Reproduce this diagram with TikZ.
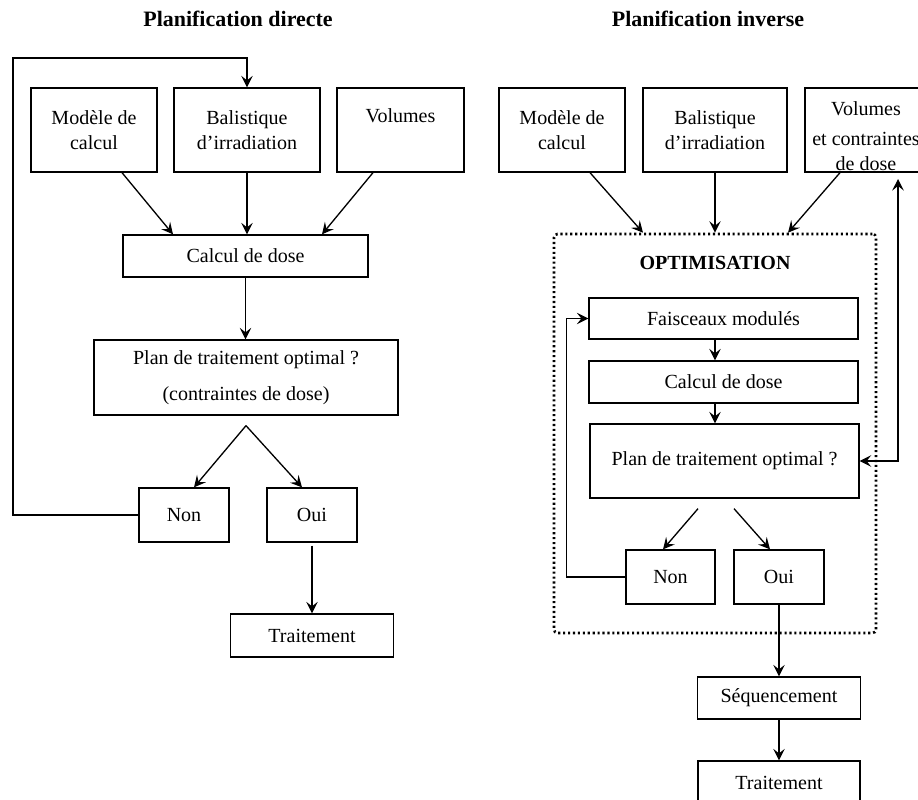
\documentclass[tikz,border=0pt]{standalone}
\usepackage{fontspec}
\setmainfont{Liberation Serif}
\usetikzlibrary{positioning,arrows.meta}

\begin{document}
\begin{tikzpicture}
    [font=\fontsize{11.4}{14.2}\selectfont,
    >={Stealth[length=2.3mm, width=2.3mm, inset=0.9mm]},
    % box/.style={top color=white, bottom color=black!10, draw},
    box/.style={draw=black, line width=0.75pt, align=center, inner sep=0pt},
    titre/.style={font=\fontsize{12.5}{15}\selectfont\bfseries},
    arr/.style={->, draw=black, line width=0.75pt},
    optbox/.style={draw=black, line width=1.5pt, dash pattern=on 1.2pt off 1.6pt,
        rounded corners=2pt, minimum width=6.44cm, minimum height=7.98cm}]
    \useasboundingbox (0,0) rectangle (18.36,-16);

    % Planification directe
    \node [titre] (titre1) at (4.76,-0.38) {Planification directe};
    \node [box, minimum width=2.52cm, minimum height=1.68cm] (mod1) at (1.88,-2.60) {Modèle de\\calcul};
    \node [box, minimum width=2.92cm, minimum height=1.68cm] (bal1) at (4.94,-2.60) {Balistique\\d’irradiation};
    \node [box, minimum width=2.54cm, minimum height=1.68cm] (vol1) at (8.01,-2.60) {Volumes\\[2pt] \mbox{}};
    \node [box, minimum width=4.90cm, minimum height=0.84cm] (calc1) at (4.91,-5.12) {Calcul de dose};
    \node [box, minimum width=6.08cm, minimum height=1.50cm] (plan1) at (4.92,-7.55)
        {Plan de traitement optimal ?\\[6pt](contraintes de dose)};
    \node [box, minimum width=1.80cm, minimum height=1.08cm] (non1) at (3.68,-10.30) {Non};
    \node [box, minimum width=1.80cm, minimum height=1.08cm] (oui1) at (6.24,-10.30) {Oui};
    \node [box, minimum width=3.26cm, minimum height=0.86cm] (trait1) at (6.24,-12.71) {Traitement};
    \coordinate (fork1) at ([yshift=-0.2cm]plan1.south);
    \coordinate (loop1) at (0.26,-1.16);

    \draw [arr] ([xshift=0.56cm]mod1.south) -- ([xshift=-1.45cm]calc1.north);
    \draw [arr] (bal1.south) -- (bal1.south |- calc1.north);
    \draw [arr] ([xshift=-0.55cm]vol1.south) -- ([xshift=1.53cm]calc1.north);
    \draw [arr] (calc1.south) -- (calc1.south |- plan1.north);
    \draw [arr] (fork1) -- ([xshift=0.2cm]non1.north);
    \draw [arr] (fork1) -- ([xshift=-0.2cm]oui1.north);
    \draw [arr] ([yshift=-0.06cm]oui1.south) -- (trait1.north);
    \draw [arr] (non1.west) -| (loop1) -| (bal1.north);

    % Planification inverse
    \node [titre] (titre2) at (14.16,-0.38) {Planification inverse};
    \node [box, minimum width=2.52cm, minimum height=1.68cm] (mod2) at (11.24,-2.60) {Modèle de\\calcul};
    \node [box, minimum width=2.88cm, minimum height=1.68cm] (bal2) at (14.30,-2.60) {Balistique\\d’irradiation};
    \node [box, minimum width=2.44cm, minimum height=1.68cm] (vol2) at (17.32,-2.60)
        {\rule{0pt}{15pt}Volumes\\[3pt]et contraintes\\de dose};
    \node [optbox] (opt) at (14.30,-8.67) {};
    \node [font=\fontsize{11.4}{14.2}\selectfont\bfseries] (optlabel) at (14.30,-5.26) {OPTIMISATION};
    \node [box, minimum width=5.38cm, minimum height=0.82cm] (fais) at (14.47,-6.37) {Faisceaux modulés};
    \node [box, minimum width=5.38cm, minimum height=0.84cm] (calc2) at (14.47,-7.64) {Calcul de dose};
    \node [box, minimum width=5.38cm, minimum height=1.48cm] (plan2) at (14.49,-9.22) {Plan de traitement optimal ?};
    \node [box, minimum width=1.78cm, minimum height=1.08cm] (non2) at (13.41,-11.54) {Non};
    \node [box, minimum width=1.80cm, minimum height=1.08cm] (oui2) at (15.58,-11.54) {Oui};
    \node [box, minimum width=3.26cm, minimum height=0.84cm] (seq) at (15.58,-13.96) {Séquencement};
    \node [box, minimum width=3.24cm, minimum height=0.86cm] (trait2) at (15.58,-15.65) {Traitement};
    \coordinate (forkL2) at ([xshift=-0.53cm, yshift=-0.2cm]plan2.south);
    \coordinate (forkR2) at ([xshift=0.19cm, yshift=-0.2cm]plan2.south);
    \coordinate (up2) at (17.96,-3.58);

    \draw [arr] ([xshift=0.56cm]mod2.south) -- ([xshift=-1.44cm]opt.north);
    \draw [arr] (bal2.south) -- (opt.north);
    \draw [arr] ([xshift=-0.52cm]vol2.south) -- ([xshift=1.46cm]opt.north);
    \draw [arr] (fais.south -| opt) -- (calc2.north -| opt);
    \draw [arr] (calc2.south -| opt) -- (plan2.north -| opt);
    \draw [arr] (forkL2) -- ([xshift=-0.15cm]non2.north);
    \draw [arr] (forkR2) -- ([xshift=-0.18cm]oui2.north);
    \draw [arr] (non2.west) -| ([xshift=-0.44cm]fais.west) -- (fais.west);
    \draw [arr, <->] (plan2.east) -| (up2);
    \draw [arr] (oui2.south) -- (seq.north);
    \draw [arr] (seq.south) -- (trait2.north);
\end{tikzpicture}
\end{document}
